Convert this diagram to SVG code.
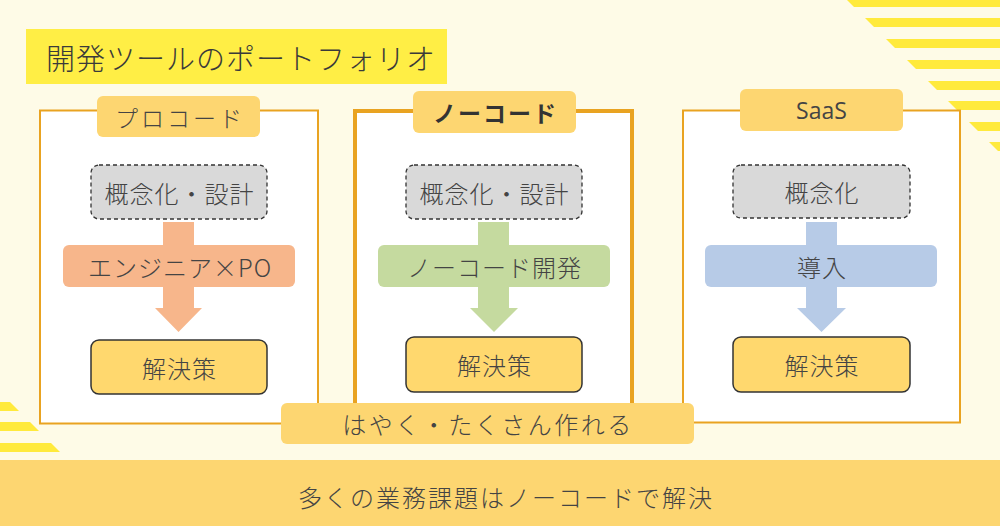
<svg xmlns="http://www.w3.org/2000/svg" width="1000" height="526" viewBox="0 0 1000 526">
<defs>
<style>
.t{font-family:"Noto Sans CJK JP","Noto Sans",sans-serif;fill:#444;font-size:24px;font-weight:300;text-anchor:middle;dominant-baseline:central;letter-spacing:1px}
.panel{fill:#fff;stroke:#E9A321;stroke-width:2}
.label{fill:#FDD671}
.dash{fill:#D9D9D9;stroke:#333;stroke-width:1.3;stroke-dasharray:4 3}
.sol{fill:#FFD86E;stroke:#333;stroke-width:1.5}
.stripe{fill:#FFEA3C}
</style>
<clipPath id="tr"><polygon points="847,0 1000,0 1000,153"/></clipPath>
<clipPath id="bl"><polygon points="0,392 0,526 134,526"/></clipPath>
</defs>
<rect width="1000" height="526" fill="#FEFBE7"/>
<g clip-path="url(#tr)">
<rect class="stripe" x="840" y="-2" width="160" height="9"/>
<rect class="stripe" x="840" y="18" width="160" height="9"/>
<rect class="stripe" x="840" y="39" width="160" height="9"/>
<rect class="stripe" x="840" y="60" width="160" height="9"/>
<rect class="stripe" x="840" y="81" width="160" height="9"/>
<rect class="stripe" x="840" y="101" width="160" height="9"/>
<rect class="stripe" x="840" y="122" width="160" height="9"/>
<rect class="stripe" x="840" y="142" width="160" height="9"/>
</g>
<g clip-path="url(#bl)">
<rect class="stripe" x="0" y="402" width="140" height="9"/>
<rect class="stripe" x="0" y="422" width="140" height="9"/>
<rect class="stripe" x="0" y="443" width="140" height="9"/>
</g>
<g id="title">
<rect x="26" y="29" width="421" height="55" fill="#FFEE45"/>
<text class="t" x="46" y="57" style="text-anchor:start;font-size:29px;fill:#3a3a3a;letter-spacing:1px">開発ツールのポートフォリオ</text>
</g>
<g id="panel-procode">
<rect class="panel" x="40" y="110.5" width="278" height="313"/>
<rect class="label" x="97" y="96" width="163" height="41" rx="6"/>
<text class="t" x="180" y="116.5" style="font-size:23px;letter-spacing:3px">プロコード</text>
</g>
<g id="panel-nocode">
<rect class="panel" x="355" y="111" width="277" height="300" style="stroke-width:4"/>
<rect class="label" x="413" y="91" width="163" height="42" rx="6"/>
<text class="t" x="495.5" y="112" style="font-size:23px;font-weight:bold;fill:#333;letter-spacing:2px">ノーコード</text>
</g>
<g id="panel-saas">
<rect class="panel" x="683" y="110.5" width="277" height="312"/>
<rect class="label" x="740" y="89" width="163" height="42" rx="6"/>
<text class="t" x="821.5" y="110" style="font-size:23px;font-weight:normal;letter-spacing:0;font-family:'Open Sans','Noto Sans',sans-serif">SaaS</text>
</g>
<g id="connectors">
<polygon points="163,222 194,222 194,308 202,308 178.5,332 155,308 163,308" fill="#F7B68B"/>
<polygon points="478,222 509,222 509,308 518,308 494,332 470,308 478,308" fill="#C5DA9F"/>
<polygon points="806,222 837,222 837,308 846,308 821.5,332 797,308 806,308" fill="#B7CBE7"/>
</g>
<g id="concept-procode">
<rect class="dash" x="91" y="165" width="176" height="54" rx="8"/>
<text class="t" x="179.5" y="192">概念化・設計</text>
</g>
<g id="dev-procode">
<rect x="63" y="245" width="232" height="42" rx="6" fill="#F7B68B"/>
<text class="t" x="180" y="266">エンジニア×PO</text>
</g>
<g id="solution-procode">
<rect class="sol" x="91" y="340" width="176" height="54" rx="8"/>
<text class="t" x="179.5" y="367">解決策</text>
</g>
<g id="concept-nocode">
<rect class="dash" x="406" y="165" width="176" height="54" rx="8"/>
<text class="t" x="494.5" y="192">概念化・設計</text>
</g>
<g id="dev-nocode">
<rect x="378" y="245" width="232" height="42" rx="6" fill="#C5DA9F"/>
<text class="t" x="494.5" y="266">ノーコード開発</text>
</g>
<g id="solution-nocode">
<rect class="sol" x="406" y="337" width="176" height="55" rx="8"/>
<text class="t" x="494.5" y="364">解決策</text>
</g>
<g id="concept-saas">
<rect class="dash" x="733" y="165" width="177" height="53" rx="8"/>
<text class="t" x="822" y="191">概念化</text>
</g>
<g id="dev-saas">
<rect x="705" y="245" width="232" height="42" rx="6" fill="#B7CBE7"/>
<text class="t" x="822" y="266">導入</text>
</g>
<g id="solution-saas">
<rect class="sol" x="733" y="337" width="177" height="55" rx="8"/>
<text class="t" x="822" y="364">解決策</text>
</g>
<g id="fast">
<rect class="label" x="281" y="403" width="413" height="41" rx="6"/>
<text class="t" x="488" y="423.5" style="letter-spacing:2.5px">はやく・たくさん作れる</text>
</g>
<g id="footer">
<rect x="0" y="460" width="1000" height="66" fill="#FDD671"/>
<text class="t" x="506" y="496" style="letter-spacing:2px">多くの業務課題はノーコードで解決</text>
</g>
</svg>
